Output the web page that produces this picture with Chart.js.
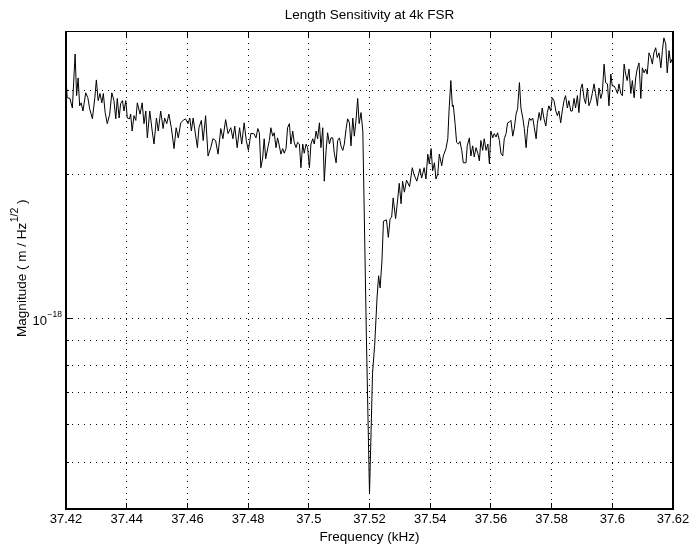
<!DOCTYPE html>
<html>
<head>
<meta charset="utf-8">
<title>Length Sensitivity at 4k FSR</title>
<script src="https://cdn.jsdelivr.net/npm/chart.js@4.4.1/dist/chart.umd.min.js"></script>
<style>
  html, body { margin: 0; padding: 0; background: #fff; }
  #wrap { width: 690px; height: 544px; }
</style>
</head>
<body>
<div id="wrap"><canvas id="sens" width="690" height="544"></canvas></div>
<script>
// frequency of each sample (kHz)
const freqKHz = [
  37.4200, 37.4204, 37.4213, 37.4221, 37.4230, 37.4235, 37.4240, 37.4245, 37.4250, 37.4256,
  37.4265, 37.4272, 37.4278, 37.4287, 37.4295, 37.4300, 37.4306, 37.4312, 37.4318, 37.4323,
  37.4329, 37.4336, 37.4344, 37.4351, 37.4358, 37.4364, 37.4369, 37.4375, 37.4380, 37.4386,
  37.4391, 37.4397, 37.4402, 37.4409, 37.4413, 37.4418, 37.4424, 37.4430, 37.4435, 37.4444,
  37.4451, 37.4457, 37.4463, 37.4468, 37.4476, 37.4484, 37.4490, 37.4498, 37.4504, 37.4512,
  37.4520, 37.4525, 37.4532, 37.4539, 37.4547, 37.4556, 37.4563, 37.4570, 37.4578, 37.4586,
  37.4594, 37.4602, 37.4608, 37.4613, 37.4619, 37.4625, 37.4633, 37.4638, 37.4646, 37.4652,
  37.4660, 37.4668, 37.4677, 37.4684, 37.4693, 37.4701, 37.4710, 37.4717, 37.4726, 37.4734,
  37.4743, 37.4750, 37.4756, 37.4764, 37.4772, 37.4779, 37.4787, 37.4794, 37.4801, 37.4809,
  37.4819, 37.4826, 37.4832, 37.4837, 37.4842, 37.4848, 37.4853, 37.4858, 37.4865, 37.4870,
  37.4875, 37.4881, 37.4886, 37.4892, 37.4897, 37.4903, 37.4908, 37.4914, 37.4919, 37.4925,
  37.4930, 37.4936, 37.4941, 37.4947, 37.4952, 37.4958, 37.4963, 37.4969, 37.4974, 37.4980,
  37.4985, 37.4991, 37.4996, 37.5002, 37.5007, 37.5013, 37.5018, 37.5024, 37.5029, 37.5035,
  37.5040, 37.5046, 37.5051, 37.5057, 37.5062, 37.5068, 37.5073, 37.5079, 37.5084, 37.5090,
  37.5095, 37.5101, 37.5106, 37.5112, 37.5117, 37.5123, 37.5128, 37.5134, 37.5139, 37.5145,
  37.5150, 37.5156, 37.5161, 37.5166, 37.5172, 37.5178, 37.5190, 37.5200,
  37.5210, 37.5217, 37.5225, 37.5230, 37.5235, 37.5241, 37.5246, 37.5256, 37.5262, 37.5268,
  37.5273, 37.5278, 37.5286, 37.5293, 37.5298, 37.5304, 37.5309, 37.5315, 37.5322, 37.5332,
  37.5341, 37.5347, 37.5356, 37.5366, 37.5372, 37.5380, 37.5386, 37.5392, 37.5397, 37.5403,
  37.5408, 37.5414, 37.5419, 37.5425, 37.5430, 37.5438, 37.5443, 37.5452, 37.5458, 37.5462,
  37.5468, 37.5473, 37.5476, 37.5482, 37.5487, 37.5493, 37.5498, 37.5504, 37.5509, 37.5518,
  37.5522, 37.5529, 37.5534, 37.5540, 37.5545, 37.5551, 37.5557, 37.5562, 37.5567, 37.5573,
  37.5578, 37.5584, 37.5590, 37.5595, 37.5600, 37.5606, 37.5611, 37.5617, 37.5622, 37.5628,
  37.5633, 37.5639, 37.5644, 37.5650, 37.5655, 37.5661, 37.5666, 37.5672, 37.5677, 37.5683,
  37.5688, 37.5694, 37.5699, 37.5705, 37.5710, 37.5716, 37.5721, 37.5727, 37.5732, 37.5738,
  37.5743, 37.5749, 37.5753, 37.5759, 37.5764, 37.5769, 37.5775, 37.5781, 37.5786, 37.5791,
  37.5797, 37.5802, 37.5808, 37.5814, 37.5819, 37.5824, 37.5830, 37.5835, 37.5841, 37.5846,
  37.5852, 37.5857, 37.5863, 37.5868, 37.5874, 37.5879, 37.5885, 37.5890, 37.5896, 37.5901,
  37.5907, 37.5912, 37.5918, 37.5923, 37.5929, 37.5934, 37.5940, 37.5945, 37.5951, 37.5956,
  37.5962, 37.5967, 37.5973, 37.5978, 37.5984, 37.5989, 37.5995, 37.6000, 37.6006, 37.6011,
  37.6017, 37.6022, 37.6028, 37.6033, 37.6039, 37.6044, 37.6049, 37.6055, 37.6061, 37.6066,
  37.6072, 37.6077, 37.6082, 37.6088, 37.6094, 37.6099, 37.6105, 37.6110, 37.6115, 37.6121,
  37.6127, 37.6132, 37.6137, 37.6143, 37.6148, 37.6154, 37.6160, 37.6165, 37.6170, 37.6176,
  37.6181, 37.6187, 37.6192, 37.6198
];

// magnitude in units of 1e-18 m/Hz^1/2
const magnitude = [
  3.19, 2.90, 2.89, 2.76, 3.58, 2.93, 3.19, 2.79, 2.83, 2.72,
  2.97, 2.90, 2.75, 2.62, 2.90, 3.16, 2.86, 2.96, 2.83, 2.96,
  2.70, 2.56, 2.68, 2.97, 2.86, 2.62, 2.89, 2.63, 2.82, 2.86,
  2.72, 2.86, 2.63, 2.62, 2.68, 2.47, 2.66, 2.60, 2.83, 2.68,
  2.83, 2.56, 2.72, 2.39, 2.72, 2.47, 2.32, 2.63, 2.47, 2.72,
  2.50, 2.63, 2.56, 2.68, 2.51, 2.27, 2.51, 2.39, 2.57, 2.60,
  2.62, 2.56, 2.63, 2.47, 2.63, 2.47, 2.28, 2.51, 2.60, 2.36,
  2.66, 2.19, 2.28, 2.38, 2.36, 2.21, 2.50, 2.38, 2.61, 2.44,
  2.51, 2.38, 2.53, 2.28, 2.51, 2.32, 2.57, 2.36, 2.25, 2.44,
  2.44, 2.39, 2.50, 2.45, 2.07, 2.17, 2.38, 2.16, 2.28, 2.36,
  2.51, 2.41, 2.45, 2.28, 2.39, 2.30, 2.21, 2.27, 2.22, 2.27,
  2.51, 2.56, 2.32, 2.47, 2.34, 2.28, 2.34, 2.32, 2.07, 2.32,
  2.22, 2.32, 2.28, 2.07, 2.32, 2.38, 2.32, 2.47, 2.38, 2.57,
  2.28, 2.51, 1.94, 2.25, 2.45, 2.32, 2.39, 2.39, 2.22, 2.12,
  2.36, 2.39, 2.30, 2.25, 2.32, 2.50, 2.62, 2.57, 2.30, 2.63,
  2.41, 2.62, 2.89, 2.56, 2.70, 2.47, 0.90, 0.43,
  0.77, 0.88, 1.11, 1.23, 1.16, 1.32, 1.60, 1.61, 1.48, 1.62,
  1.63, 1.79, 1.62, 1.78, 1.92, 1.74, 1.94, 1.84, 1.95, 1.89,
  2.07, 2.00, 1.94, 2.06, 1.97, 2.07, 1.96, 2.21, 2.11, 2.27,
  2.04, 2.12, 1.96, 2.01, 2.21, 2.09, 2.19, 2.27, 2.38, 2.72,
  3.15, 2.78, 2.80, 2.56, 2.34, 2.32, 2.35, 2.25, 2.12, 2.12,
  2.30, 2.39, 2.19, 2.30, 2.18, 2.28, 2.22, 2.14, 2.36, 2.25,
  2.38, 2.25, 2.32, 2.11, 2.47, 2.39, 2.44, 2.40, 2.45, 2.36,
  2.22, 2.19, 2.38, 2.44, 2.57, 2.58, 2.60, 2.41, 2.50, 2.68,
  2.75, 3.12, 2.76, 2.63, 2.50, 2.28, 2.50, 2.63, 2.60, 2.63,
  2.51, 2.38, 2.56, 2.70, 2.60, 2.76, 2.62, 2.53, 2.70, 2.79,
  2.72, 2.90, 2.86, 2.72, 2.66, 2.72, 2.57, 2.72, 2.86, 2.93,
  2.76, 2.86, 2.72, 2.72, 2.89, 2.76, 2.93, 2.70, 3.03, 3.10,
  2.89, 2.82, 3.04, 2.79, 2.86, 2.96, 3.10, 2.96, 2.79, 3.04,
  2.89, 2.97, 3.41, 3.12, 3.10, 2.79, 3.25, 3.07, 3.07, 3.03,
  2.96, 3.10, 2.96, 2.93, 3.41, 3.25, 3.15, 3.33, 2.96, 3.15,
  2.90, 3.19, 3.33, 3.43, 2.89, 3.35, 3.27, 3.33, 3.25, 3.60,
  3.52, 3.41, 3.60, 3.69, 3.52, 3.60, 3.35, 3.64, 3.87, 3.76,
  3.27, 3.64, 3.43, 3.50
];

// axis ticks
const xTicks = [37.42, 37.44, 37.46, 37.48, 37.50, 37.52, 37.54, 37.56, 37.58, 37.60, 37.62];
// log grid lines (units of 1e-18); only 1 gets a label
const yGrid = [0.5, 0.6, 0.7, 0.8, 0.9, 1, 2, 3];
const UNIT = 1e-18;

const FONT = "'Liberation Sans', Arial, Helvetica, sans-serif";
Chart.defaults.font.family = FONT;
Chart.defaults.color = '#000';

// box, inward ticks, y label and y title the way matlab draws them
const matlabFrame = {
    id: 'matlabFrame',
    afterDatasetsDraw(chart) {
        const ctx = chart.ctx;
        const a = chart.chartArea;
        const x = chart.scales.x, y = chart.scales.y;
        ctx.save();
        ctx.strokeStyle = '#000';
        ctx.setLineDash([]);

        ctx.lineWidth = 1;
        ctx.beginPath();
        xTicks.forEach(v => {
            const px = Math.round(x.getPixelForValue(v) - 0.5) + 0.5;
            ctx.moveTo(px, a.bottom); ctx.lineTo(px, a.bottom - 6);
            ctx.moveTo(px, a.top); ctx.lineTo(px, a.top + 6);
        });
        yGrid.forEach(v => {
            const py = Math.round(y.getPixelForValue(v * UNIT) - 0.5) + 0.5;
            const len = v === 1 ? 6 : 3;
            ctx.moveTo(a.left, py); ctx.lineTo(a.left + len, py);
            ctx.moveTo(a.right, py); ctx.lineTo(a.right - len, py);
        });
        ctx.stroke();

        // frame
        ctx.lineWidth = 2;
        ctx.beginPath();
        ctx.moveTo(a.left, a.top);
        ctx.lineTo(a.left, a.bottom);
        ctx.lineTo(a.right, a.bottom);
        ctx.lineTo(a.right, a.top);
        ctx.stroke();
        ctx.lineWidth = 1;
        ctx.beginPath();
        ctx.moveTo(a.left, a.top + 0.5);
        ctx.lineTo(a.right, a.top + 0.5);
        ctx.stroke();

        // 10^-18 tick label
        ctx.fillStyle = '#000';
        ctx.textBaseline = 'alphabetic';
        ctx.textAlign = 'right';
        const py = y.getPixelForValue(1 * UNIT);
        ctx.font = '8.5px ' + FONT;
        const ew = ctx.measureText('\u221218').width;
        ctx.fillText('\u221218', a.left - 4, py - 2);
        ctx.font = '13px ' + FONT;
        ctx.fillText('10', a.left - 4 - ew - 0.5, py + 6);

        // y axis title with superscript
        const main = 'Magnitude ( m / Hz', sup = '1/2', tail = ' )';
        ctx.font = '13.5px ' + FONT;
        const w1 = ctx.measureText(main).width;
        const w3 = ctx.measureText(tail).width;
        ctx.font = '10.5px ' + FONT;
        const w2 = ctx.measureText(sup).width;
        const start = -(w1 + w2 + w3) / 2;
        ctx.translate(26, (a.top + a.bottom) / 2 - 1.5);
        ctx.rotate(-Math.PI / 2);
        ctx.textAlign = 'left';
        ctx.font = '13.5px ' + FONT;
        ctx.fillText(main, start, 0);
        ctx.fillText(tail, start + w1 + w2 + 0.5, 0);
        ctx.font = '10.5px ' + FONT;
        ctx.fillText(sup, start + w1 + 0.5, -8.5);
        ctx.restore();
    }
};

const ctx = document.getElementById('sens').getContext('2d');
new Chart(ctx, {
    type: 'line',
    data: {
        datasets: [{
            label: 'Length sensitivity',
            data: freqKHz.map((f, i) => ({ x: f, y: magnitude[i] * UNIT })),
            borderColor: '#000',
            borderWidth: 1,
            pointRadius: 0,
            tension: 0,
            fill: false
        }]
    },
    options: {
        responsive: false,
        animation: false,
        devicePixelRatio: 1,
        layout: { padding: { left: 66, right: 17, top: 0, bottom: 0 } },
        plugins: {
            legend: { display: false },
            tooltip: { enabled: false },
            title: {
                display: true,
                text: 'Length Sensitivity at 4k FSR',
                color: '#000',
                font: { size: 13.5, weight: 'normal' },
                padding: { top: 7, bottom: 7.8 }
            }
        },
        scales: {
            x: {
                type: 'linear',
                min: 37.42,
                max: 37.62,
                afterBuildTicks: scale => { scale.ticks = xTicks.map(v => ({ value: v })); },
                // the end labels may hang past the frame, like matlab does
                afterFit: scale => { scale.paddingLeft = 0; scale.paddingRight = 0; },
                ticks: {
                    color: '#000',
                    font: { size: 13 },
                    padding: 3,
                    maxRotation: 0,
                    autoSkip: false,
                    callback: v => String(Number(v.toFixed(2)))
                },
                grid: { color: '#000', lineWidth: 1, drawTicks: false },
                border: { display: false, dash: [1, 5] },
                title: {
                    display: true,
                    text: 'Frequency (kHz)',
                    color: '#000',
                    font: { size: 13.5, lineHeight: 1 },
                    padding: { top: 0, bottom: 0 }
                }
            },
            y: {
                type: 'logarithmic',
                min: 0.4 * UNIT,
                max: 4 * UNIT,
                afterBuildTicks: scale => { scale.ticks = yGrid.map(v => ({ value: v * UNIT })); },
                ticks: { display: false },
                grid: { color: '#000', lineWidth: 1, drawTicks: false },
                border: { display: false, dash: [1, 5] }
            }
        }
    },
    plugins: [matlabFrame]
});
</script>
</body>
</html>
